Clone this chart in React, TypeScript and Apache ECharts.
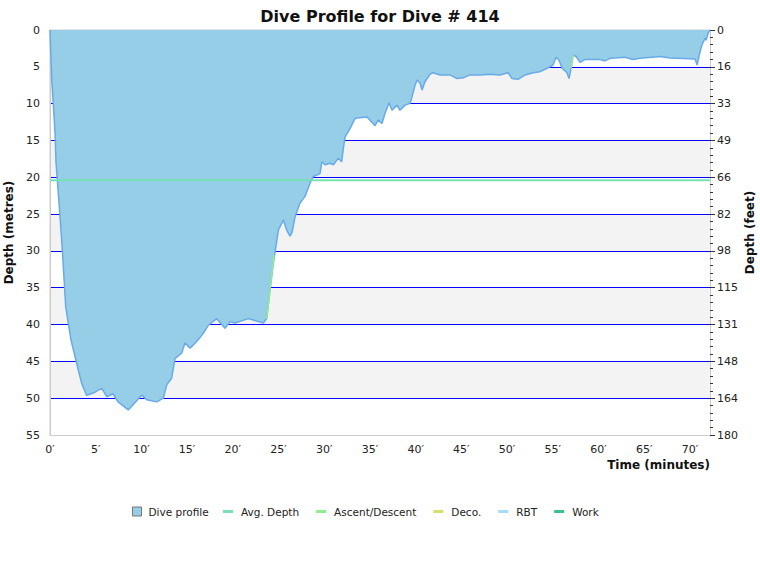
import { useEffect, useRef } from 'react'
import * as echarts from 'echarts'

const TITLE = 'Dive Profile for Dive # 414'

// dive profile (minutes / metres)
const TIME_MIN = [
  0, 0.05, 0.19, 0.36, 0.55, 0.66, 0.8, 1.02, 1.2, 1.35,
  1.72, 2.3, 3.1, 3.47, 4.0, 4.74, 5.28, 5.69, 6.2, 6.9,
  7.44, 8.57, 9.08, 10.03, 10.58, 11.67, 12.4, 12.77, 13.3, 13.68,
  14.4, 14.77, 15.32, 16.05, 16.77, 17.32, 18.24, 19.15, 19.69, 20.24,
  21.7, 23.34, 23.7, 24.07, 24.43, 24.98, 25.53, 25.9, 26.26, 26.48,
  26.8, 27.35, 27.9, 28.45, 28.8, 29.54, 29.73, 30.09, 30.63, 31.0,
  31.54, 31.9, 32.09, 32.28, 32.82, 33.37, 34.68, 35.34, 35.56, 35.89,
  36.32, 36.65, 37.09, 37.42, 37.96, 38.29, 38.84, 39.39, 39.61, 39.93,
  40.15, 40.48, 40.7, 41.03, 41.58, 41.9, 42.67, 43.76, 44.53, 45.19,
  45.95, 47.05, 48.14, 49.23, 50.1, 50.55, 51.2, 51.97, 52.84, 53.61,
  54.38, 55.03, 55.36, 55.69, 56.02, 56.56, 56.78, 57.0, 57.22, 57.55,
  57.99, 58.53, 60.18, 60.72, 61.27, 62.91, 63.79, 64.55, 66.74, 67.83,
  70.02, 70.57, 70.79, 71.12, 71.33, 71.66, 71.77, 71.99, 72.2,
]
const DEPTH_M = [
  0, 1.8, 6.8, 10, 14, 18, 20.4, 24, 27.2, 29.9,
  37.6, 42.1, 46.2, 48, 49.6, 49.3, 48.9, 48.7, 49.8, 49.4,
  50.5, 51.6, 50.9, 49.6, 50.2, 50.5, 50.0, 48.2, 47.3, 44.6,
  43.9, 42.5, 43.2, 42.3, 41.2, 40.1, 39.2, 40.5, 39.6, 39.8,
  39.2, 39.8, 39.2, 35.3, 31.7, 27.2, 25.8, 27.2, 28.0, 27.5,
  25.4, 23.5, 22.6, 20.8, 19.9, 19.5, 17.9, 18.3, 18.1, 18.3,
  17.4, 17.9, 16.1, 14.5, 13.4, 12.0, 11.8, 12.7, 13.0, 12.2,
  12.7, 11.3, 9.9, 10.9, 10.2, 10.9, 10.2, 9.95, 9.05, 7.5,
  6.8, 7.2, 8.15, 7.0, 6.0, 5.8, 6.1, 6.1, 6.6, 6.5,
  6.1, 6.1, 6.0, 6.1, 5.8, 6.6, 6.7, 6.1, 5.8, 5.66,
  5.2, 4.75, 3.7, 4.1, 5.2, 5.8, 6.6, 5.2, 3.4, 3.6,
  4.4, 4.0, 4.0, 4.2, 3.85, 3.7, 4.0, 3.85, 3.6, 3.8,
  3.9, 3.95, 4.75, 2.9, 2.0, 1.1, 1.4, 0.45, 0,
]

const AVG_DEPTH = 20.4
const DIVE_END = 72.2

// ascent/descent highlight, null breaks the line
const ASCENT_TIME = [23.7, 24.07, 24.5, 40, 57.0, 57.22]
const ASCENT_DEPTH = [39.2, 35.3, 30.5, null, 5.2, 3.4]

const FEET_LABELS = ['0', '16', '33', '49', '66', '82', '98', '115', '131', '148', '164', '180']

const FONT = 'DejaVu Sans'

export default function App() {
  const ref = useRef<HTMLDivElement>(null)

  useEffect(() => {
    if (!ref.current) return
    const chart = echarts.init(ref.current, undefined, { renderer: 'svg' })

    const profile = TIME_MIN.map((t, i) => [t, DEPTH_M[i]])
    const ascent = ASCENT_TIME.map((t, i) => [t, ASCENT_DEPTH[i] == null ? '-' : ASCENT_DEPTH[i]])

    chart.setOption({
      animation: false,
      backgroundColor: '#fff',
      textStyle: { fontFamily: FONT },
      title: {
        text: TITLE, left: 'center', top: 3,
        textStyle: { fontFamily: FONT, fontSize: 16, fontWeight: 'bold', color: '#111' },
      },
      grid: {
        left: 50, right: 50, top: 30, bottom: 145, show: true, borderColor: '#ccc', borderWidth: 1,
        containLabel: false, outerBoundsMode: 'none',
      },
      legend: [
        {
          left: 127, top: 501, itemWidth: 9, itemHeight: 9, icon: 'rect',
          textStyle: { fontFamily: FONT, fontSize: 10.5, color: '#222', padding: [0, 0, 0, 2] },
          data: [{ name: 'Dive profile', itemStyle: { color: '#96cee8', borderColor: '#777', borderWidth: 1 } }],
        },
        {
          left: 218, top: 501, itemWidth: 10, itemHeight: 3, itemGap: 17, icon: 'rect',
          textStyle: { fontFamily: FONT, fontSize: 10.5, color: '#222', padding: [0, 0, 0, 3] },
          data: ['Avg. Depth', 'Ascent/Descent', 'Deco.', 'RBT', 'Work'],
        },
      ],
      xAxis: {
        type: 'value', min: 0, max: DIVE_END, interval: 5, position: 'bottom',
        name: 'Time (minutes)', nameLocation: 'end', nameGap: 0, nameMoveOverlap: false,
        nameTextStyle: { fontFamily: FONT, fontSize: 12, fontWeight: 'bold', color: '#111', align: 'right', verticalAlign: 'top', padding: [24, 0, 0, 0] },
        axisLine: { onZero: false, lineStyle: { color: '#ccc' } },
        axisTick: { show: false },
        splitLine: { show: false },
        axisLabel: { color: '#222', fontSize: 11, margin: 9, showMaxLabel: false, formatter: (v: number) => v + '\u2032' },
      },
      yAxis: [
        {
          type: 'value', min: 0, max: 55, interval: 5, inverse: true, position: 'left',
          name: 'Depth (metres)', nameLocation: 'middle', nameGap: 35, nameRotate: 90, nameMoveOverlap: false,
          nameTextStyle: { fontFamily: FONT, fontSize: 12, fontWeight: 'bold', color: '#111' },
          axisLine: { show: true, onZero: false, lineStyle: { color: '#ccc' } },
          axisTick: { show: false },
          axisLabel: { color: '#222', fontSize: 11, margin: 10 },
          splitLine: { show: true, showMinLine: false, showMaxLine: false, lineStyle: { color: '#0000ff', width: 1 } },
          splitArea: { show: true, areaStyle: { color: ['#ffffff', '#f3f3f3'] } },
        },
        {
          type: 'value', min: 0, max: 55, interval: 5, inverse: true, position: 'right',
          name: 'Depth (feet)', nameLocation: 'middle', nameGap: 34, nameRotate: 90, nameMoveOverlap: false,
          nameTextStyle: { fontFamily: FONT, fontSize: 12, fontWeight: 'bold', color: '#111' },
          axisLine: { show: true, onZero: false, lineStyle: { color: '#ccc' } },
          axisTick: { show: true, length: 5, lineStyle: { color: '#333' } },
          minorTick: { show: true, splitNumber: 5, length: 3, lineStyle: { color: '#333' } },
          axisLabel: { color: '#222', fontSize: 11, margin: 7, formatter: (_v: number, i: number) => FEET_LABELS[i] },
          splitLine: { show: false },
          splitArea: { show: false },
        },
      ],
      series: [
        {
          name: 'Dive profile', type: 'line', data: profile, symbol: 'none', z: 2,
          lineStyle: { color: '#68aae8', width: 1.5 },
          itemStyle: { color: '#96cee8' },
          areaStyle: { color: '#96cee8', opacity: 1, origin: 'start' },
        },
        {
          name: 'Avg. Depth', type: 'line', symbol: 'none', z: 4,
          data: [[0, AVG_DEPTH], [DIVE_END, AVG_DEPTH]],
          lineStyle: { color: '#78e1b4', width: 2 }, itemStyle: { color: '#78e1b4' },
        },
        {
          name: 'Ascent/Descent', type: 'line', symbol: 'none', z: 3, connectNulls: false,
          data: ascent,
          lineStyle: { color: '#90ee90', width: 1.5 }, itemStyle: { color: '#90ee90' },
        },
        { name: 'Deco.', type: 'line', symbol: 'none', data: [], itemStyle: { color: '#d5e06b' }, lineStyle: { color: '#d5e06b' } },
        { name: 'RBT', type: 'line', symbol: 'none', data: [], itemStyle: { color: '#a6dcf5' }, lineStyle: { color: '#a6dcf5' } },
        { name: 'Work', type: 'line', symbol: 'none', data: [], itemStyle: { color: '#3cbf8c' }, lineStyle: { color: '#3cbf8c' } },
      ],
    })

    return () => chart.dispose()
  }, [])

  return <div ref={ref} style={{ position: 'fixed', left: 0, top: 0, width: 760, height: 580 }} />
}
